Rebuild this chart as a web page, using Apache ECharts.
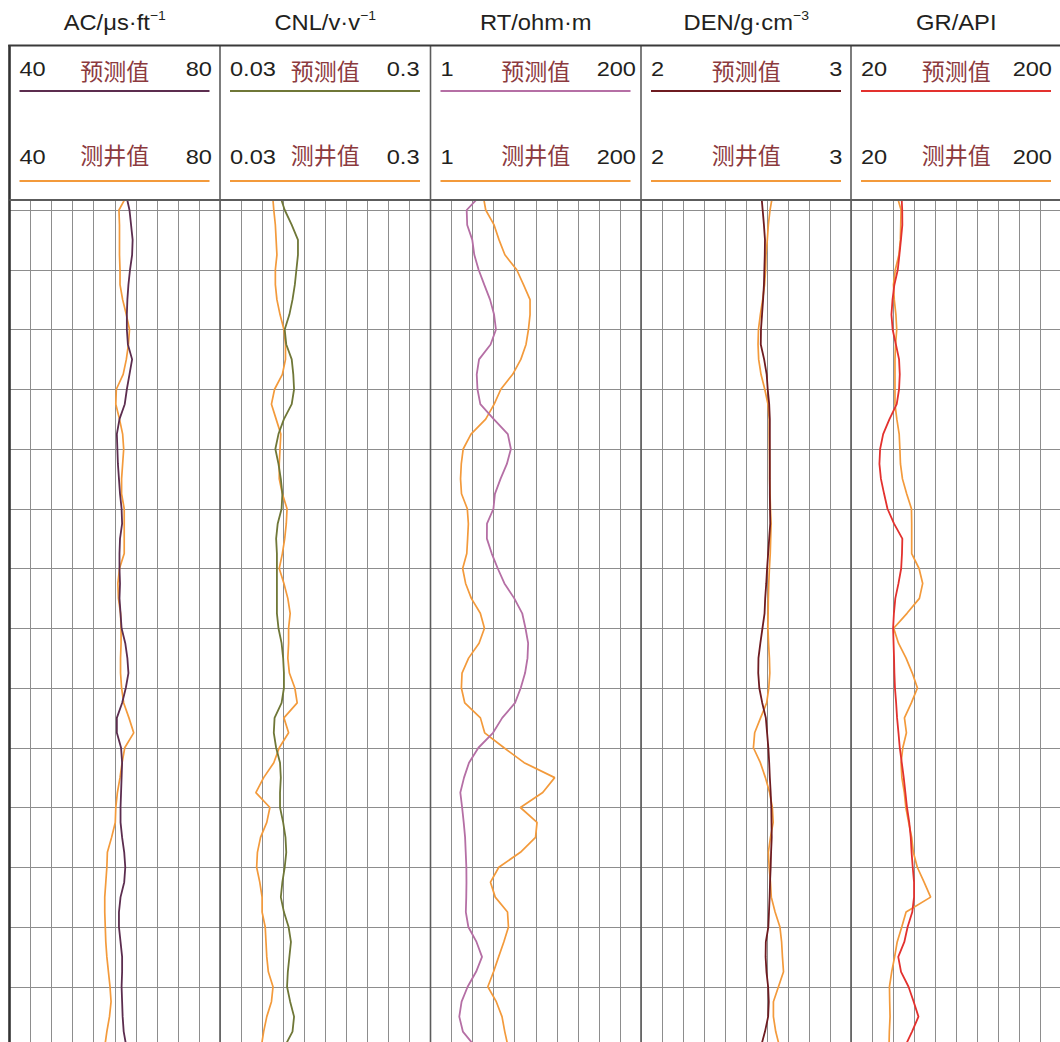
<!DOCTYPE html>
<html>
<head>
<meta charset="utf-8">
<script src="https://cdn.jsdelivr.net/npm/echarts@6/dist/echarts.min.js"></script>
<style>
  html, body { margin: 0; padding: 0; background: #ffffff; }
  #chart { width: 1060px; height: 1042px; }
</style>
</head>
<body>
<div id="chart"></div>
<script>
// ---- Depth samples (m) shared by every curve ----
const depths = [2599.84, 2600.00, 2600.25, 2600.50, 2600.75, 2601.00, 2601.25, 2601.50, 2601.75, 2602.00,
  2602.25, 2602.50, 2602.75, 2603.00, 2603.25, 2603.50, 2603.75, 2604.00, 2604.25, 2604.50,
  2604.75, 2605.00, 2605.25, 2605.50, 2605.75, 2606.00, 2606.25, 2606.50, 2606.75, 2607.00,
  2607.25, 2607.50, 2607.75, 2608.00, 2608.25, 2608.50, 2608.75, 2609.00, 2609.25, 2609.50,
  2609.75, 2610.00, 2610.25, 2610.50, 2610.75, 2611.00, 2611.25, 2611.50, 2611.75, 2612.00,
  2612.25, 2612.50, 2612.75, 2613.00, 2613.25, 2613.50, 2613.75, 2614.00];

// ---- Track titles and scales ----
const trackTitles = ['AC/μs·ft', 'CNL/v·v', 'RT/ohm·m', 'DEN/g·cm', 'GR/API'];
const trackTitleExponents = ['−1', '−1', '', '−3', ''];
const scaleMin = [40, 0.03, 1, 2, 20];
const scaleMax = [80, 0.3, 200, 3, 200];
const scaleMinLabels = ['40', '0.03', '1', '2', '20'];
const scaleMaxLabels = ['80', '0.3', '200', '3', '200'];
const predictedName = '预测值';
const measuredName = '测井值';

// ---- Log curves (predicted / measured) ----
const acPredicted = [62.4, 62.8, 63.1, 63.4, 63.3, 62.9, 62.6, 62.4, 62.3, 62.3, 62.5, 63.3, 62.8, 62.3, 61.9, 60.9, 60.4, 60.5, 60.6, 60.8,
  61.0, 61.3, 61.4, 61.0, 60.9, 60.9, 61.0, 60.9, 61.1, 61.3, 62.0, 62.4, 62.6, 62.1, 61.4, 60.4, 60.4, 61.2, 61.4, 61.3,
  61.2, 61.1, 61.1, 61.4, 61.8, 62.0, 61.8, 61.1, 60.8, 60.8, 61.1, 61.4, 61.4, 61.3, 61.4, 61.5, 61.7, 62.2];
const acMeasured = [61.8, 60.8, 60.9, 60.9, 60.9, 61.0, 61.0, 61.5, 62.2, 62.8, 62.6, 62.2, 61.6, 60.3, 60.2, 60.9, 61.5, 61.7, 61.5, 61.3,
  61.3, 61.8, 61.8, 61.8, 61.8, 60.9, 60.6, 60.7, 61.1, 61.2, 61.2, 61.1, 61.1, 61.3, 61.7, 62.7, 63.6, 61.9, 61.4, 61.0,
  60.5, 60.2, 60.1, 59.4, 58.6, 58.5, 58.3, 58.1, 58.1, 58.2, 58.3, 58.5, 58.8, 59.1, 59.3, 59.0, 58.5, 58.1];

const cnlPredicted = [0.109, 0.113, 0.122, 0.130, 0.130, 0.128, 0.126, 0.123, 0.119, 0.113, 0.115, 0.122, 0.124, 0.125, 0.122, 0.112, 0.105, 0.101, 0.105, 0.108,
  0.110, 0.109, 0.104, 0.102, 0.103, 0.103, 0.103, 0.103, 0.103, 0.105, 0.109, 0.111, 0.112, 0.112, 0.109, 0.100, 0.099, 0.102, 0.107, 0.108,
  0.107, 0.107, 0.111, 0.114, 0.115, 0.113, 0.110, 0.108, 0.112, 0.118, 0.121, 0.119, 0.117, 0.116, 0.120, 0.125, 0.123, 0.113];
const cnlMeasured = [0.098, 0.099, 0.101, 0.102, 0.103, 0.101, 0.101, 0.103, 0.107, 0.112, 0.114, 0.114, 0.110, 0.100, 0.096, 0.102, 0.108, 0.107, 0.106, 0.106,
  0.110, 0.116, 0.115, 0.113, 0.110, 0.106, 0.112, 0.117, 0.120, 0.118, 0.118, 0.117, 0.119, 0.126, 0.129, 0.112, 0.118, 0.106, 0.099, 0.086,
  0.076, 0.094, 0.090, 0.082, 0.078, 0.077, 0.081, 0.084, 0.084, 0.088, 0.089, 0.090, 0.092, 0.098, 0.096, 0.090, 0.086, 0.083];

const rtPredicted = [43.8, 35.2, 35.7, 40.5, 42.4, 46.5, 51.8, 57.3, 61.1, 62.9, 57.8, 46.9, 44.7, 45.4, 48.1, 60.8, 74.1, 77.0, 73.2, 67.2,
  61.9, 60.5, 54.4, 54.3, 58.9, 64.6, 70.9, 80.2, 87.7, 90.8, 93.3, 92.7, 90.4, 86.3, 80.9, 68.8, 60.1, 46.3, 37.4, 32.7,
  29.2, 30.9, 32.4, 33.7, 34.3, 34.9, 35.0, 34.8, 34.4, 36.8, 44.5, 49.7, 44.1, 36.1, 30.4, 28.2, 31.6, 43.1];
const rtMeasured = [51.6, 53.2, 61.1, 65.8, 71.3, 82.5, 88.9, 95.1, 95.1, 93.6, 91.3, 86.4, 78.7, 67.5, 61.2, 53.2, 39.3, 31.9, 30.1, 29.4,
  30.3, 35.8, 36.8, 36.1, 35.3, 31.4, 34.2, 39.6, 48.1, 52.0, 46.9, 37.0, 30.8, 30.2, 33.4, 48.2, 52.2, 70.5, 89.5, 118.4,
  107.1, 86.0, 101.7, 100.3, 86.0, 65.6, 57.7, 62.2, 73.8, 74.7, 70.3, 65.4, 60.6, 55.2, 63.2, 68.6, 71.2, 74.3];

const denPredicted = [2.574, 2.578, 2.584, 2.589, 2.588, 2.586, 2.584, 2.580, 2.575, 2.570, 2.569, 2.585, 2.597, 2.602, 2.609, 2.612, 2.612, 2.612, 2.612, 2.612,
  2.612, 2.613, 2.614, 2.609, 2.604, 2.599, 2.595, 2.590, 2.587, 2.577, 2.567, 2.558, 2.557, 2.562, 2.576, 2.593, 2.599, 2.605, 2.609, 2.612,
  2.616, 2.619, 2.620, 2.621, 2.618, 2.616, 2.613, 2.611, 2.608, 2.605, 2.593, 2.592, 2.596, 2.604, 2.607, 2.604, 2.589, 2.570];
const denMeasured = [2.621, 2.613, 2.605, 2.600, 2.594, 2.592, 2.587, 2.578, 2.567, 2.558, 2.556, 2.559, 2.570, 2.588, 2.603, 2.609, 2.609, 2.610, 2.611, 2.611,
  2.613, 2.615, 2.618, 2.616, 2.614, 2.610, 2.607, 2.605, 2.604, 2.603, 2.606, 2.610, 2.612, 2.607, 2.597, 2.568, 2.540, 2.534, 2.567, 2.591,
  2.611, 2.624, 2.628, 2.615, 2.605, 2.609, 2.615, 2.619, 2.637, 2.660, 2.668, 2.672, 2.677, 2.653, 2.629, 2.629, 2.640, 2.658];

const grPredicted = [63.4, 63.8, 63.9, 62.7, 61.4, 60.0, 57.1, 55.5, 54.6, 55.6, 58.4, 61.1, 61.7, 61.1, 59.1, 52.9, 47.5, 44.9, 44.3, 45.6,
  48.3, 51.2, 56.8, 63.9, 63.6, 62.9, 60.6, 57.9, 56.7, 56.0, 56.4, 56.8, 57.1, 57.6, 58.6, 59.4, 60.6, 61.7, 63.4, 65.1,
  66.5, 67.9, 69.8, 71.1, 71.8, 72.8, 73.9, 73.9, 72.4, 68.4, 65.6, 60.4, 62.8, 69.2, 73.6, 77.7, 72.2, 66.2];
const grMeasured = [60.5, 62.8, 62.5, 62.2, 61.0, 57.9, 56.3, 57.0, 58.4, 59.1, 58.1, 57.6, 57.6, 57.6, 57.6, 59.2, 61.2, 61.8, 62.3, 64.0,
  67.6, 71.7, 71.9, 71.9, 71.9, 78.2, 81.3, 78.5, 67.9, 56.5, 60.6, 67.1, 72.4, 76.8, 71.6, 65.7, 67.4, 64.3, 62.8, 63.5,
  65.6, 66.9, 69.3, 71.9, 73.3, 76.7, 82.5, 88.1, 67.1, 63.4, 59.5, 57.3, 54.8, 52.9, 53.1, 53.4, 52.8, 52.5];

const predictedCurves = [acPredicted, cnlPredicted, rtPredicted, denPredicted, grPredicted];
const measuredCurves = [acMeasured, cnlMeasured, rtMeasured, denMeasured, grMeasured];

// ---- Styling and layout ----
const predictedColors = ['#5c2d4f', '#6f7737', '#b56fa5', '#6e1b20', '#e3312e'];
const measuredColor = '#f39a3b';
const trackLeft = [9.5, 220, 430.5, 641, 851];
const trackWidth = 210.5;
const rightLabelOffset = [202.5, 199.5, 205.5, 201.5, 201];
const plotTop = 200;
const plotHeight = 860;
const pxPerMetre = 59.75;
const depthTop = 2600 - 10 / pxPerMetre;
const depthBottom = depthTop + plotHeight / pxPerMetre;
const gridColor = '#8d8d8d';
const textColor = '#231f20';
const cnColor = '#8c3a3e';
const latinFont = '"Liberation Sans", Arial, sans-serif';
const cjkFont = '"Noto Sans CJK SC", sans-serif';

const grids = [], xAxes = [], yAxes = [], series = [], graphics = [];

trackLeft.forEach((left, i) => {
  // tracks run past the page bottom, so the grid must not be squeezed into the container
  grids.push({ left: left, top: plotTop, width: trackWidth, height: plotHeight, outerBoundsMode: 'none', containLabel: false });
  xAxes.push({
    type: 'value', gridIndex: i, position: 'top',
    min: scaleMin[i], max: scaleMax[i], interval: (scaleMax[i] - scaleMin[i]) / 10,
    axisLine: { show: false }, axisTick: { show: false }, axisLabel: { show: false },
    splitLine: { show: true, lineStyle: { color: gridColor, width: 1 } }
  });
  yAxes.push({
    type: 'value', gridIndex: i, inverse: true,
    min: depthTop, max: depthBottom, splitNumber: 14, minInterval: 1, maxInterval: 1,
    axisLine: { show: false }, axisTick: { show: false }, axisLabel: { show: false },
    splitLine: { show: true, lineStyle: { color: gridColor, width: 1 } }
  });
  series.push({
    name: measuredName, type: 'line', xAxisIndex: i, yAxisIndex: i,
    data: depths.map((d, j) => [measuredCurves[i][j], d]),
    showSymbol: false, symbol: 'none', silent: true, z: 3,
    lineStyle: { color: measuredColor, width: 1.7 }
  });
  series.push({
    name: predictedName, type: 'line', xAxisIndex: i, yAxisIndex: i,
    data: depths.map((d, j) => [predictedCurves[i][j], d]),
    showSymbol: false, symbol: 'none', silent: true, z: 4,
    lineStyle: { color: predictedColors[i], width: 1.8 }
  });

  const cx = left + trackWidth / 2;
  // track title
  const exp = trackTitleExponents[i];
  graphics.push({
    type: 'text', x: cx, y: 22, scaleX: 1.08, z: 20,
    style: {
      text: exp ? '{t|' + trackTitles[i] + '}{s|' + exp + '}' : '{t|' + trackTitles[i] + '}',
      align: 'center', verticalAlign: 'middle',
      rich: {
        t: { fontSize: 22, fontFamily: latinFont, fill: textColor, lineHeight: 26 },
        s: { fontSize: 13, fontFamily: latinFont, fill: textColor, lineHeight: 14, verticalAlign: 'top' }
      }
    }
  });
  // scale rows: predicted (row 0) and measured (row 1)
  [[69, 69.5, 91, predictedName, predictedColors[i]], [157.5, 154, 181, measuredName, measuredColor]].forEach(row => {
    const [numY, cnY, lineY, name, color] = row;
    graphics.push({
      type: 'text', x: left + 10, y: numY, scaleX: 1.18, z: 20,
      style: { text: scaleMinLabels[i], fontSize: 20, fontFamily: latinFont, fill: textColor, align: 'left', verticalAlign: 'middle' }
    });
    graphics.push({
      type: 'text', x: left + rightLabelOffset[i], y: numY, scaleX: 1.18, z: 20,
      style: { text: scaleMaxLabels[i], fontSize: 20, fontFamily: latinFont, fill: textColor, align: 'right', verticalAlign: 'middle' }
    });
    graphics.push({
      type: 'text', x: cx, y: cnY, z: 20,
      style: { text: name, fontSize: 23, fontFamily: cjkFont, fill: cnColor, align: 'center', verticalAlign: 'middle' }
    });
    graphics.push({
      type: 'line', z: 20,
      shape: { x1: left + 10, y1: lineY, x2: left + 200, y2: lineY },
      style: { stroke: color, lineWidth: 2 }
    });
  });
  // track separator
  graphics.push({
    type: 'line', z: 30,
    shape: { x1: left, y1: 45, x2: left, y2: 1042 },
    style: { stroke: i === 0 ? '#333333' : '#5c5c5c', lineWidth: i === 0 ? 2.6 : 1.6 }
  });
});

// header frame
graphics.push({ type: 'line', z: 31, shape: { x1: 8.2, y1: 45.5, x2: 1060, y2: 45.5 }, style: { stroke: '#3a3a3a', lineWidth: 2 } });
graphics.push({ type: 'line', z: 31, shape: { x1: 9.5, y1: 200, x2: 1060, y2: 200 }, style: { stroke: '#5c5c5c', lineWidth: 2 } });

const chart = echarts.init(document.getElementById('chart'), null, { renderer: 'svg' });
chart.setOption({
  animation: false,
  backgroundColor: '#ffffff',
  grid: grids,
  xAxis: xAxes,
  yAxis: yAxes,
  series: series,
  graphic: { elements: graphics }
});
</script>
</body>
</html>
